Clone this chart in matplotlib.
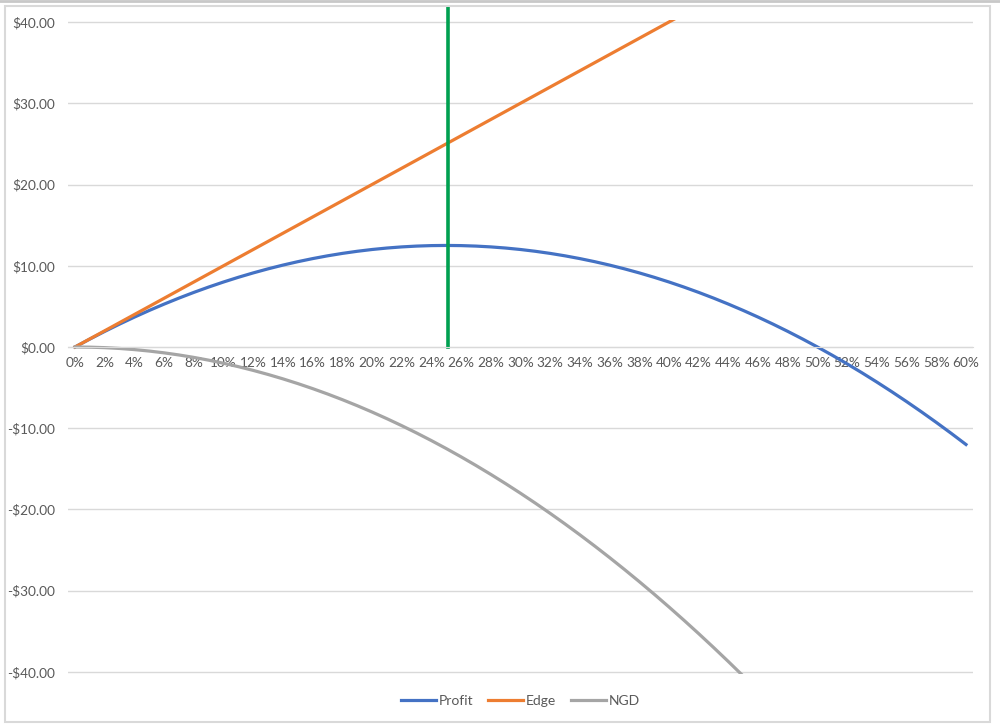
import matplotlib.pyplot as plt
from matplotlib.lines import Line2D
from matplotlib.patches import Rectangle

plt.rcParams['font.family'] = ['Lato', 'DejaVu Sans']

# categories 0% .. 60% in 1% steps
pct = list(range(0, 61))
labels = [str(p) + '%' for p in pct]

profit = [0, 0.98, 1.92, 2.82, 3.68, 4.5, 5.28, 6.02, 6.72, 7.38, 8, 8.58, 9.12, 9.62, 10.08,
          10.5, 10.88, 11.22, 11.52, 11.78, 12, 12.18, 12.32, 12.42, 12.48, 12.5, 12.48, 12.42,
          12.32, 12.18, 12, 11.78, 11.52, 11.22, 10.88, 10.5, 10.08, 9.62, 9.12, 8.58, 8, 7.38,
          6.72, 6.02, 5.28, 4.5, 3.68, 2.82, 1.92, 0.98, 0, -1.02, -2.08, -3.18, -4.32, -5.5,
          -6.72, -7.98, -9.28, -10.62, -12]
edge = [0, 1, 2, 3, 4, 5, 6, 7, 8, 9, 10, 11, 12, 13, 14, 15, 16, 17, 18, 19, 20, 21, 22, 23,
        24, 25, 26, 27, 28, 29, 30, 31, 32, 33, 34, 35, 36, 37, 38, 39, 40, 41, 42, 43, 44, 45,
        46, 47, 48, 49, 50, 51, 52, 53, 54, 55, 56, 57, 58, 59, 60]
ngd = [0, -0.02, -0.08, -0.18, -0.32, -0.5, -0.72, -0.98, -1.28, -1.62, -2, -2.42, -2.88,
       -3.38, -3.92, -4.5, -5.12, -5.78, -6.48, -7.22, -8, -8.82, -9.68, -10.58, -11.52, -12.5,
       -13.52, -14.58, -15.68, -16.82, -18, -19.22, -20.48, -21.78, -23.12, -24.5, -25.92,
       -27.38, -28.88, -30.42, -32, -33.62, -35.28, -36.98, -38.72, -40.5, -42.32, -44.18,
       -46.08, -48.02, -50, -52.02, -54.08, -56.18, -58.32, -60.5, -62.72, -64.98, -67.28,
       -69.62, -72]

# optimum marker
opt_x = 25
opt_y = [0, 41.8]

grid_c = '#d9d9d9'
txt_c = '#595959'

fig = plt.figure(figsize=(10, 7.28), dpi=100)
ax = fig.add_axes([0.0676, 0.0747, 0.9058, 0.8973])

# chart frame like excel
fig.patches.append(Rectangle((0.005, 0.008), 0.985, 0.984, transform=fig.transFigure,
                             fill=False, edgecolor='#d9d9d9', lw=1.5))
fig.lines.append(Line2D([0, 1], [0.999, 0.999], transform=fig.transFigure,
                        color='#c8c8c8', lw=2))

ax.plot(pct, profit, color='#4472C4', lw=2.3, label='Profit', solid_joinstyle='round')
ax.plot(pct, edge, color='#ED7D31', lw=2.3, label='Edge', solid_joinstyle='round')
ax.plot(pct, ngd, color='#A5A5A5', lw=2.3, label='NGD', solid_joinstyle='round')
ax.plot([opt_x + 0.12, opt_x + 0.12], opt_y, color='#00A050', lw=2.6, clip_on=False)

ax.set_xlim(-0.5, 60.5)
ax.set_ylim(-40.2, 40.2)
ax.set_yticks(range(-40, 41, 10))
ax.set_yticklabels(['-$%.2f' % -v if v < 0 else '$%.2f' % v for v in range(-40, 41, 10)])
ax.set_xticks(pct[::2])
ax.set_xticklabels(labels[::2])

ax.grid(axis='y', color=grid_c, lw=1)
ax.set_axisbelow(True)
for s in ['left', 'right', 'top']:
    ax.spines[s].set_visible(False)
ax.spines['bottom'].set_position(('data', 0))
ax.spines['bottom'].set_color(grid_c)
ax.tick_params(axis='both', length=0, labelsize=9.8, labelcolor=txt_c)
ax.tick_params(axis='y', pad=9)
ax.tick_params(axis='x', pad=7)

ax.legend(loc='center', bbox_to_anchor=(0.5, -0.042), ncol=3, frameon=False,
          fontsize=10, labelcolor=txt_c, handlelength=2.5, handletextpad=0.2,
          columnspacing=1.1)

fig.savefig('out.png')
